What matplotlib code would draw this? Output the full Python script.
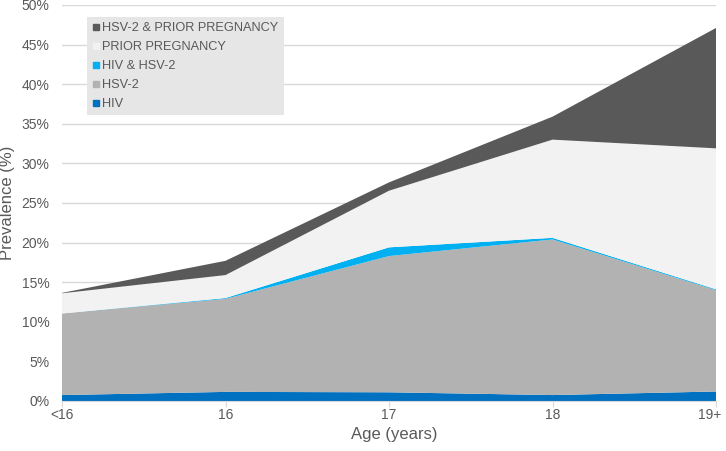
import matplotlib
matplotlib.use("Agg")
import matplotlib.pyplot as plt
from matplotlib.lines import Line2D
import numpy as np

plt.rcParams['font.family'] = ['Liberation Sans', 'DejaVu Sans']

ages = ["<16", "16", "17", "18", "19+"]
hiv = [0.75, 1.15, 1.1, 0.75, 1.2]
hsv2 = [10.3, 11.75, 17.2, 19.65, 12.8]
hiv_hsv2 = [0.0, 0.1, 1.1, 0.2, 0.1]
prior_preg = [2.55, 2.9, 7.15, 12.4, 17.8]
hsv2_prior = [0.05, 1.8, 1.05, 2.9, 15.2]

series = [
    ("HIV", hiv, "#0070C0"),
    ("HSV-2", hsv2, "#B2B2B2"),
    ("HIV & HSV-2", hiv_hsv2, "#00B0F0"),
    ("PRIOR PREGNANCY", prior_preg, "#F2F2F2"),
    ("HSV-2 & PRIOR PREGNANCY", hsv2_prior, "#595959"),
]

fig = plt.figure(figsize=(7.26, 4.51), dpi=100)
ax = fig.add_axes([62/726, 50/451, 654/726, 396/451])

x = np.arange(len(ages))
ax.stackplot(x, *[s[1] for s in series], colors=[s[2] for s in series],
             linewidth=0, zorder=2)

ax.set_xlim(0, len(ages) - 1)
ax.set_ylim(0, 50)
ax.set_yticks(np.arange(0, 51, 5))
ax.set_yticklabels([f"{v}%" for v in range(0, 51, 5)])
ax.set_xticks(x)
ax.set_xticklabels(ages)
ax.get_xticklabels()[-1].set_ha('right')
ax.grid(axis='y', color='#D9D9D9', linewidth=1, zorder=0)
ax.set_axisbelow(True)
for s in ['top', 'right', 'left']:
    ax.spines[s].set_visible(False)
ax.spines['bottom'].set_color('#D9D9D9')
ax.tick_params(axis='y', length=0, labelsize=10, colors='#595959', pad=9)
ax.tick_params(axis='x', length=4, color='#D9D9D9', labelsize=10, labelcolor='#595959', pad=1)
lbls = ax.get_xticklabels()
lbls[-1].set_horizontalalignment('center')
from matplotlib.transforms import ScaledTranslation
lbls[-1].set_transform(lbls[-1].get_transform() + ScaledTranslation(-6/100, 0, fig.dpi_scale_trans))

fig.text(394/726, 1 - 435/451, "Age (years)", fontsize=12, color='#595959',
         ha='center', va='center')
fig.text(8/726, 1 - 203/451, "Prevalence (%)", fontsize=12, color='#595959',
         ha='center', va='center', rotation=90)

handles = [Line2D([0], [0], marker='s', linestyle='none', markersize=5,
                  markerfacecolor=c, markeredgecolor=c, label=n)
           for n, _, c in reversed(series)]
leg = ax.legend(handles=handles, loc='upper left', bbox_to_anchor=(0.038, 0.970),
                frameon=True, fancybox=False, fontsize=9.2, handlelength=0.6,
                handletextpad=0.2, labelspacing=0.55, borderpad=0.4,
                borderaxespad=0, labelcolor='#595959')
leg.get_frame().set_facecolor('#E6E6E6')
leg.get_frame().set_edgecolor('none')
leg.get_frame().set_alpha(1)

fig.savefig("out.png", dpi=100)
